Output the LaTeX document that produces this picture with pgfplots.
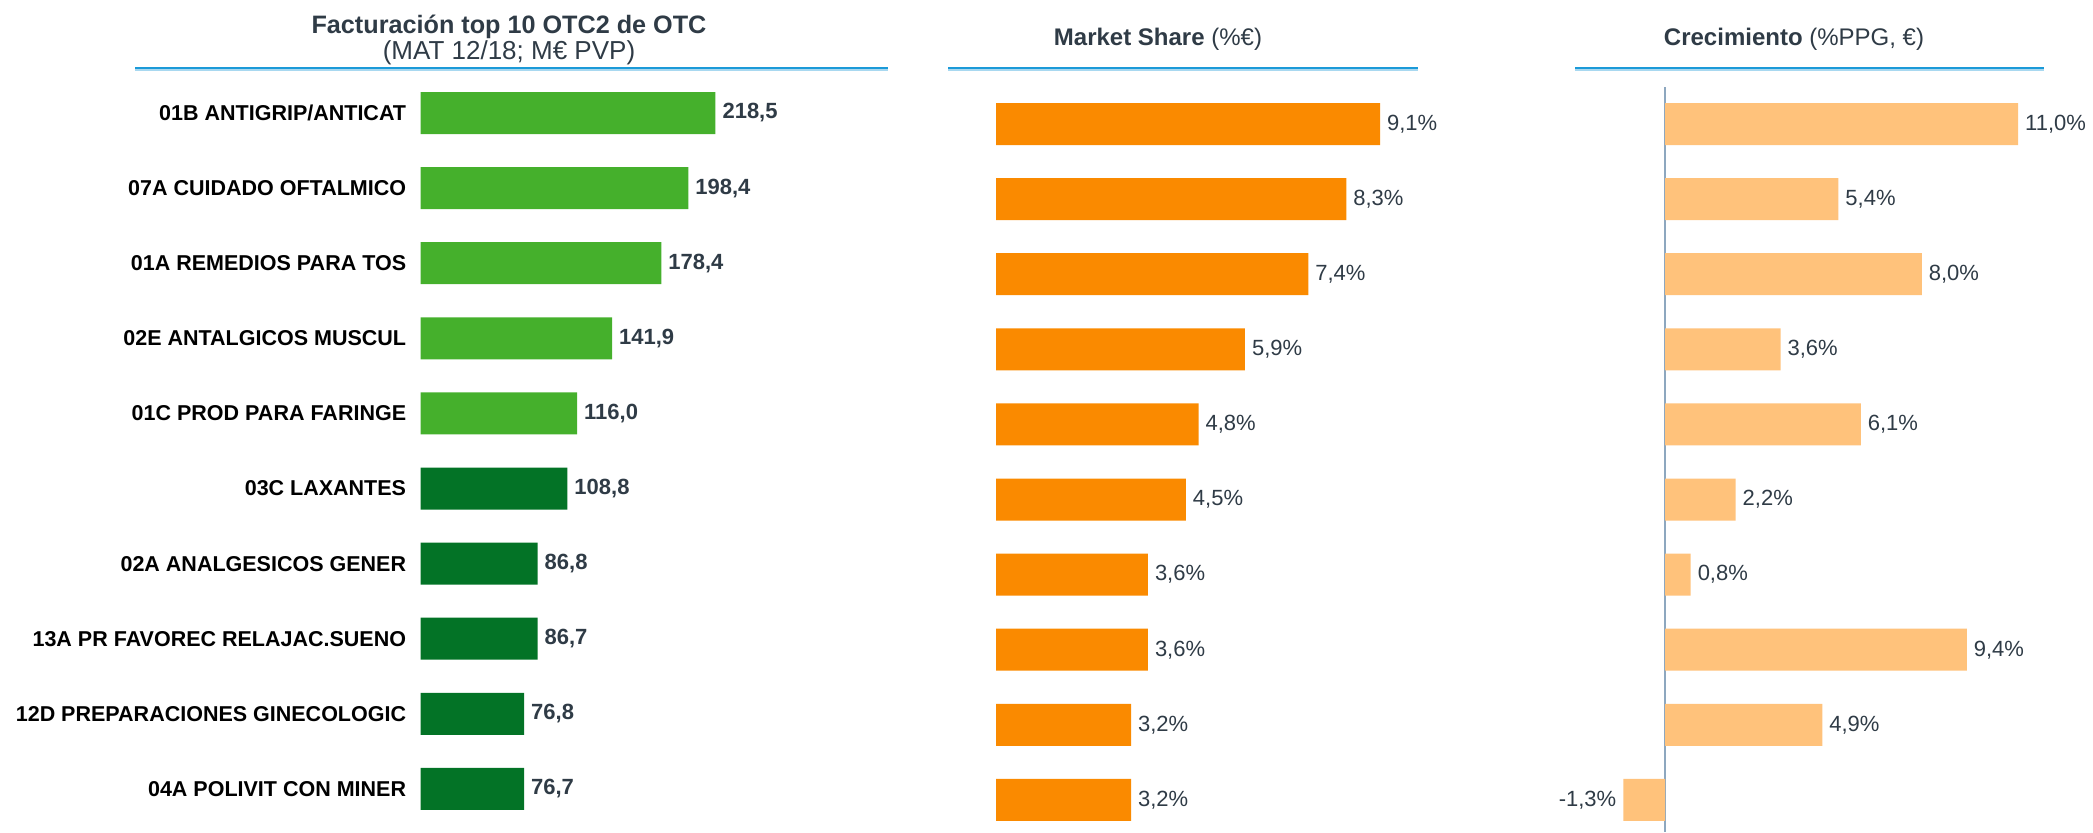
\documentclass[border=0pt]{standalone}
\usepackage{fontspec}
\setmainfont{Liberation Sans}
\usepackage{pgfplots}
\pgfplotsset{compat=1.18}
\definecolor{lgreen}{HTML}{45B02C}
\definecolor{dgreen}{HTML}{037326}
\definecolor{orng}{HTML}{FA8A00}
\definecolor{lorng}{HTML}{FFC27B}
\definecolor{txt}{HTML}{2F3B46}
\definecolor{rule}{HTML}{1B9AD8}
\definecolor{rulel}{HTML}{A8D8F0}
\definecolor{axl}{HTML}{8DA7BF}
\pgfplotsset{
  common/.style={
    xbar, y dir=reverse, ymin=-0.35, ymax=9.57,
    bar width=21pt, bar shift=0pt, y=37.55pt,
    anchor=origin, clip=false,
    point meta=x, nodes near coords,
    every node near coord/.append style={text=txt},
  },
}
\begin{document}
\begin{tikzpicture}
\useasboundingbox (0,0) rectangle (1046.5pt,-416pt);
% titles
\node[font=\bfseries\fontsize{12.6}{14}\selectfont, text=txt] at (254.5pt,-13.3pt) {Facturación top 10 OTC2 de OTC};
\node[font=\fontsize{13}{14}\selectfont, text=txt] at (254.5pt,-26.5pt) {(MAT 12/18; M€ PVP)};
\node[font=\fontsize{12}{14}\selectfont, text=txt] at (579pt,-19.8pt) {\textbf{Market Share} (\%€)};
\node[font=\fontsize{12}{14}\selectfont, text=txt] at (897pt,-19.8pt) {\textbf{Crecimiento} (\%PPG, €)};
\foreach \a/\b in {67.5/444, 474/709, 787.5/1022}{
  \draw[rule, line width=1pt] (\a pt,-34pt) -- (\b pt,-34pt);
  \draw[rulel, line width=0.7pt] (\a pt,-35pt) -- (\b pt,-35pt);
}
% panel 1
\begin{axis}[common, at={(210.25pt,-56.5pt)}, x=0.675pt, xmin=0, xmax=250,
  hide x axis, axis y line*=left, y axis line style={draw=none},
  major tick length=0pt, ytick={0,...,9},
  yticklabels={01B ANTIGRIP/ANTICAT, 07A CUIDADO OFTALMICO, 01A REMEDIOS PARA TOS, 02E ANTALGICOS MUSCUL, 01C PROD PARA FARINGE, 03C LAXANTES, 02A ANALGESICOS GENER, 13A PR FAVOREC RELAJAC.SUENO, 12D PREPARACIONES GINECOLOGIC, 04A POLIVIT CON MINER},
  yticklabel style={font=\bfseries\fontsize{10.75}{12}\selectfont, text=black, anchor=east, inner xsep=0pt, xshift=-7pt},
  nodes near coords={\pgfmathprintnumber[fixed,fixed zerofill,precision=1,use comma,assume math mode=true]{\pgfplotspointmeta}},
  every node near coord/.append style={font=\bfseries\fontsize{11}{13}\selectfont},
]
\addplot[fill=lgreen, draw=none] coordinates {(218.5,0) (198.4,1) (178.4,2) (141.9,3) (116.0,4)};
\addplot[fill=dgreen, draw=none] coordinates {(108.8,5) (86.8,6) (86.7,7) (76.8,8) (76.7,9)};
\end{axis}
% panel 2
\begin{axis}[common, at={(498pt,-62pt)}, x=21.1pt, xmin=0, xmax=10,
  hide axis,
  nodes near coords={\pgfmathprintnumber[fixed,fixed zerofill,precision=1,use comma,assume math mode=true]{\pgfplotspointmeta}\%},
  every node near coord/.append style={font=\fontsize{11}{13}\selectfont},
]
\addplot[fill=orng, draw=none] coordinates {(9.1,0) (8.3,1) (7.4,2) (5.9,3) (4.8,4) (4.5,5) (3.6,6) (3.6,7) (3.2,8) (3.2,9)};
\end{axis}
% panel 3
\begin{axis}[common, at={(832.5pt,-62pt)}, x=16.05pt, xmin=-2, xmax=12,
  ymin=-0.49, ymax=9.43,
  hide x axis, axis y line=center, ytick=\empty,
  y axis line style={-, draw=axl, line width=1pt},
  nodes near coords={\pgfmathprintnumber[fixed,fixed zerofill,precision=1,use comma,assume math mode=true]{\pgfplotspointmeta}\%},
  every node near coord/.append style={font=\fontsize{11}{13}\selectfont},
]
\addplot[fill=lorng, draw=none] coordinates {(11.0,0) (5.4,1) (8.0,2) (3.6,3) (6.1,4) (2.2,5) (0.8,6) (9.4,7) (4.9,8) (-1.3,9)};
\end{axis}
\end{tikzpicture}
\end{document}
